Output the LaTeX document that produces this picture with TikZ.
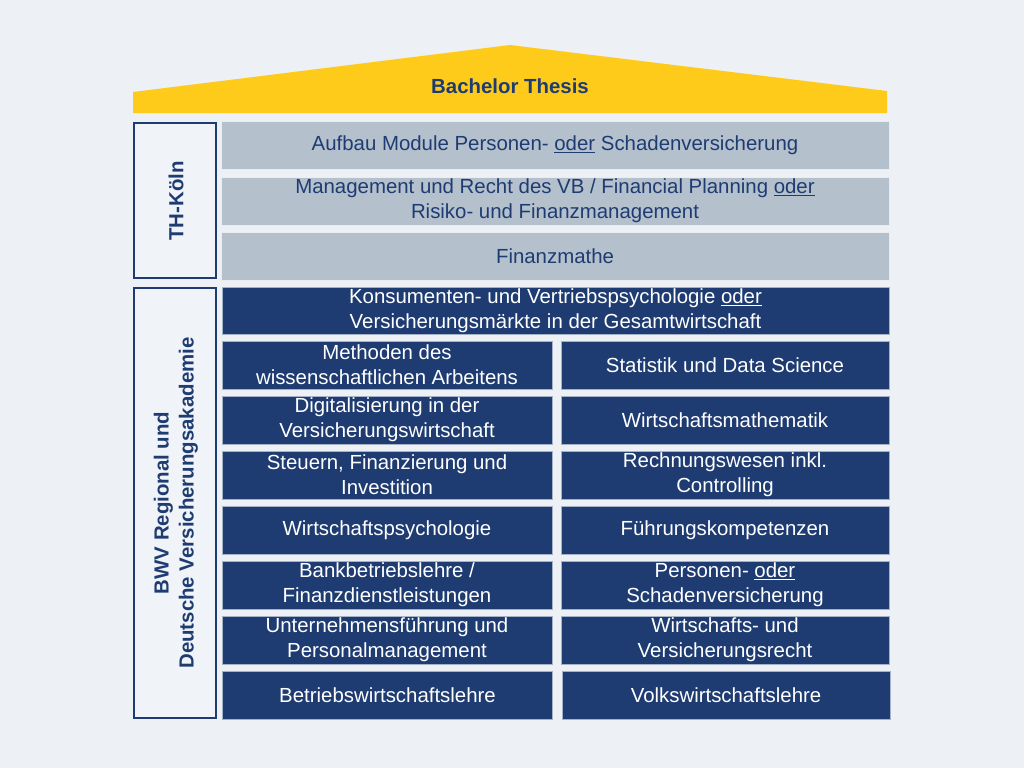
\documentclass[tikz,border=0pt]{standalone}
\usepackage{fontspec}
\setmainfont{Liberation Sans}
\definecolor{bgc}{HTML}{EDF0F5}
\definecolor{navy}{HTML}{1E3C72}
\definecolor{grayb}{HTML}{B5C0CD}
\definecolor{roofc}{HTML}{FECB1B}
\definecolor{sidefill}{HTML}{F0F3F7}
\newcommand{\od}{\underline{oder}}
\begin{document}
\begin{tikzpicture}[x=1pt,y=-1pt,
  every node/.style={font=\fontsize{20.4}{25}\selectfont},
  gbox/.style={fill=grayb, draw=white!70!grayb, line width=0.8pt, inner sep=0pt, text=navy, align=center, minimum width=668pt, minimum height=48pt},
  dbox/.style={fill=navy, draw=white!60!navy, line width=0.8pt, inner sep=0pt, text=white, align=center, minimum height=48pt},
  lbox/.style={dbox, minimum width=330pt},
  rbox/.style={dbox, minimum width=328pt},
  sbox/.style={fill=sidefill, draw=navy, line width=1.7pt, inner sep=0pt, minimum width=82.3pt, text=navy, align=center},
  boldtext/.style={text=navy, font=\bfseries\fontsize{20.4}{25}\selectfont}
]
\fill[bgc] (0,0) rectangle (1024,768);
\useasboundingbox (0,0) rectangle (1024,768);
% roof
\fill[roofc] (133,92) -- (510,45) -- (887,91) -- (887,113) -- (133,113) -- cycle;
\node[boldtext] (title) at (510,86) {Bachelor Thesis};
% side boxes
\node[sbox, minimum height=155.3pt] (th) at (175,200.5) {};
\node[rotate=90, boldtext] (thl) at (176,201) {TH-Köln};
\node[sbox, minimum height=430.3pt] (bwv) at (175,503) {};
\node[rotate=90, boldtext, align=center] (bwvl) at (176,503) {BWV Regional und\\Deutsche Versicherungsakademie};
% gray boxes
\node[gbox] (g1) at (555,145) {Aufbau Module Personen- \od{} Schadenversicherung};
\node[gbox] (g2) at (555,201) {Management und Recht des VB / Financial Planning \od\\Risiko- und Finanzmanagement};
\node[gbox] (g3) at (555,256) {Finanzmathe};
% dark boxes
\node[dbox, minimum width=667pt, minimum height=47pt] (d0) at (555.5,310.5) {Konsumenten- und Vertriebspsychologie \od\\Versicherungsmärkte in der Gesamtwirtschaft};
\node[lbox] (l1) at (387,365) {Methoden des\\wissenschaftlichen Arbeitens};
\node[rbox] (r1) at (725,365) {Statistik und Data Science};
\node[lbox] (l2) at (387,420) {Digitalisierung in der\\Versicherungswirtschaft};
\node[rbox] (r2) at (725,420) {Wirtschaftsmathematik};
\node[lbox] (l3) at (387,475) {Steuern, Finanzierung und\\Investition};
\node[rbox] (r3) at (725,475) {Rechnungswesen inkl.\\Controlling};
\node[lbox] (l4) at (387,530) {Wirtschaftspsychologie};
\node[rbox] (r4) at (725,530) {Führungskompetenzen};
\node[lbox] (l5) at (387,585) {Bankbetriebslehre /\\Finanzdienstleistungen};
\node[rbox] (r5) at (725,585) {Personen- \od\\Schadenversicherung};
\node[lbox] (l6) at (387,640) {Unternehmensführung und\\Personalmanagement};
\node[rbox] (r6) at (725,640) {Wirtschafts- und\\Versicherungsrecht};
\node[lbox] (l7) at (387.5,695) {Betriebswirtschaftslehre};
\node[rbox] (r7) at (726,695) {Volkswirtschaftslehre};
\end{tikzpicture}
\end{document}
